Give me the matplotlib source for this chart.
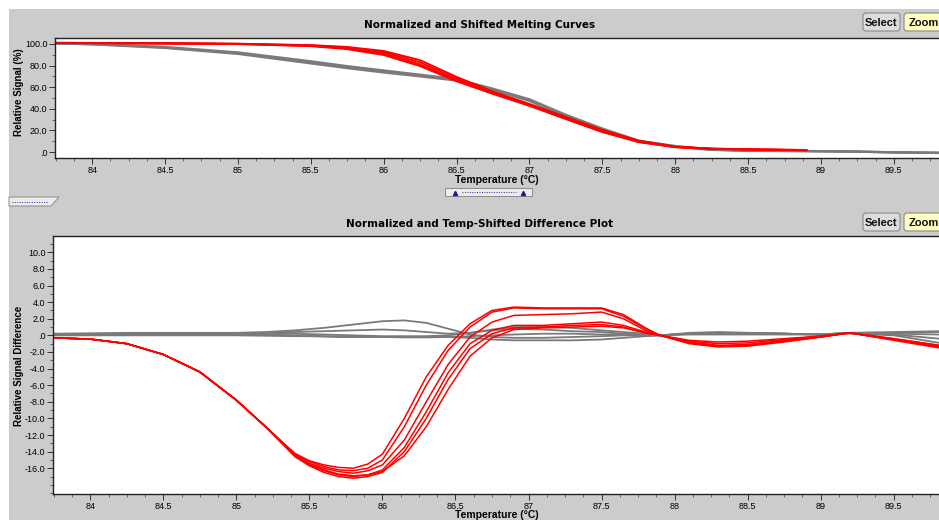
import matplotlib
matplotlib.use("Agg")
import matplotlib.pyplot as plt
from matplotlib.patches import Rectangle, FancyBboxPatch, Polygon
from matplotlib.ticker import MultipleLocator, FuncFormatter

# ---- data ----
# top plot: normalized melting curves (temperature in degC, signal in %)
temp_top = [83.75, 84.0, 84.5, 85.0, 85.5, 85.75, 86.0, 86.25, 86.5, 86.75,
            87.0, 87.25, 87.5, 87.75, 88.0, 88.25, 88.5, 88.9]
red_top = [
    [101.0, 100.9, 100.6, 100.2, 98.9, 97.2, 93.5, 85.0, 69.5, 56.0, 44.5, 32.5, 20.5, 10.5, 5.0, 3.2, 2.6, 1.9],
    [101.0, 100.9, 100.6, 100.1, 98.6, 96.6, 92.3, 83.0, 68.0, 55.0, 43.8, 31.8, 19.8, 10.0, 4.8, 3.1, 2.5, 1.8],
    [101.0, 100.8, 100.5, 100.0, 98.3, 95.9, 91.0, 81.0, 66.5, 54.3, 43.2, 31.0, 19.0, 9.5, 4.6, 3.0, 2.4, 1.7],
    [100.9, 100.8, 100.4, 99.9, 98.0, 95.2, 89.8, 79.5, 65.5, 53.8, 42.8, 30.5, 18.5, 9.2, 4.5, 2.9, 2.3, 1.7],
]
temp_top_gray = [83.75, 84.0, 84.5, 85.0, 85.5, 85.75, 86.0, 86.25, 86.5, 86.75,
                 87.0, 87.25, 87.5, 87.75, 88.0, 88.25, 88.5, 88.9, 89.25, 89.5, 89.81]
gray_top = [
    [100.6, 100.0, 97.2, 92.2, 84.0, 79.5, 75.5, 71.6, 67.5, 58.6, 48.8, 34.5, 21.8, 10.6, 5.6, 2.4, 1.4, 1.0, 0.5, -0.2, -0.6],
    [100.5, 99.8, 96.8, 91.5, 83.0, 78.5, 74.5, 70.8, 66.8, 58.0, 48.0, 33.5, 21.0, 10.0, 5.3, 2.2, 1.3, 0.9, 0.4, -0.3, -0.7],
    [100.4, 99.6, 96.3, 90.8, 82.0, 77.6, 73.6, 70.0, 66.1, 57.4, 47.3, 32.8, 20.3, 9.5, 5.0, 2.0, 1.1, 0.8, 0.3, -0.4, -0.9],
]

# bottom plot: temp-shifted difference curves
temp_diff = [83.75, 84.0, 84.25, 84.5, 84.75, 85.0, 85.2, 85.4, 85.5, 85.6, 85.7, 85.8, 85.9, 86.0,
             86.15, 86.3, 86.45, 86.6, 86.75, 86.9, 87.1, 87.3, 87.5, 87.65, 87.8,
             87.9, 88.1, 88.3, 88.5, 88.75, 89.0, 89.2, 89.5, 89.81]
red_diff = [
    [-0.3, -0.45, -1.0, -2.3, -4.4, -7.8, -11.0, -14.2, -15.1, -15.6, -15.9, -16.0, -15.5, -14.3, -10.0, -5.0, -1.2, 1.4, 3.0, 3.4, 3.3, 3.3, 3.3, 2.5, 0.9, 0.0, -0.6, -0.8, -0.7, -0.4, -0.1, 0.3, -0.4, -1.2],
    [-0.3, -0.45, -1.0, -2.3, -4.4, -7.8, -11.0, -14.3, -15.2, -15.8, -16.2, -16.3, -16.0, -15.0, -11.0, -6.0, -1.8, 1.0, 2.8, 3.3, 3.2, 3.2, 3.2, 2.3, 0.8, 0.0, -0.7, -1.0, -0.9, -0.5, -0.1, 0.3, -0.4, -1.2],
    [-0.3, -0.45, -1.0, -2.3, -4.4, -7.8, -11.0, -14.4, -15.4, -16.0, -16.4, -16.6, -16.3, -15.6, -12.6, -8.0, -3.5, -0.2, 1.6, 2.4, 2.5, 2.6, 2.8, 2.0, 0.6, 0.0, -0.8, -1.2, -1.1, -0.6, -0.1, 0.3, -0.5, -1.3],
    [-0.3, -0.45, -1.0, -2.3, -4.4, -7.8, -11.0, -14.5, -15.6, -16.3, -16.8, -17.0, -16.8, -16.2, -13.5, -9.2, -4.5, -1.0, 0.6, 1.2, 1.2, 1.4, 1.6, 1.2, 0.4, 0.0, -0.9, -1.3, -1.2, -0.7, -0.2, 0.3, -0.5, -1.4],
    [-0.3, -0.45, -1.0, -2.3, -4.4, -7.8, -11.0, -14.6, -15.7, -16.5, -17.0, -17.2, -17.0, -16.5, -14.0, -10.0, -5.3, -1.6, 0.2, 0.9, 1.0, 1.2, 1.3, 1.0, 0.3, 0.0, -1.0, -1.4, -1.3, -0.8, -0.2, 0.3, -0.6, -1.5],
    [-0.3, -0.45, -1.0, -2.3, -4.4, -7.8, -11.0, -14.4, -15.5, -16.2, -16.7, -16.9, -16.8, -16.4, -14.5, -11.0, -6.5, -2.5, -0.3, 0.7, 0.9, 1.0, 1.1, 0.9, 0.3, 0.0, -0.9, -1.3, -1.2, -0.7, -0.2, 0.3, -0.5, -1.4],
]
gray_diff = [
    [0.1, 0.15, 0.2, 0.2, 0.25, 0.3, 0.4, 0.6, 0.75, 0.9, 1.1, 1.3, 1.5, 1.7, 1.8, 1.5, 0.8, 0.1, -0.2, -0.3, -0.3, -0.2, -0.1, 0.0, 0.0, 0.0, 0.3, 0.4, 0.3, 0.2, 0.1, 0.3, 0.3, 0.4],
    [0.1, 0.15, 0.2, 0.2, 0.2, 0.25, 0.3, 0.4, 0.45, 0.5, 0.55, 0.6, 0.65, 0.7, 0.6, 0.4, 0.2, 0.3, 0.7, 1.0, 1.0, 0.9, 0.6, 0.4, 0.2, 0.0, 0.2, 0.3, 0.3, 0.2, 0.1, 0.3, 0.2, 0.1],
    [0.0, 0.0, 0.0, 0.0, 0.0, 0.0, -0.05, -0.1, -0.1, -0.15, -0.2, -0.2, -0.2, -0.2, -0.2, -0.2, -0.2, -0.3, -0.5, -0.6, -0.6, -0.6, -0.5, -0.3, -0.1, 0.0, 0.1, 0.1, 0.1, 0.1, 0.1, 0.2, 0.0, -0.9],
    [0.2, 0.25, 0.3, 0.3, 0.3, 0.3, 0.3, 0.2, 0.15, 0.1, 0.05, 0.0, -0.05, -0.1, -0.1, -0.1, 0.0, 0.3, 0.6, 0.8, 0.7, 0.5, 0.4, 0.2, 0.1, 0.0, 0.2, 0.3, 0.2, 0.2, 0.1, 0.3, 0.4, 0.5],
    [0.0, 0.1, 0.1, 0.1, 0.1, 0.1, 0.1, 0.0, -0.05, -0.1, -0.12, -0.15, -0.18, -0.2, -0.25, -0.25, -0.2, -0.1, 0.0, 0.1, 0.2, 0.2, 0.1, 0.1, 0.0, 0.0, 0.2, 0.3, 0.3, 0.2, 0.1, 0.3, 0.1, -0.4],
]

RED = "#ff0000"
GRAY = "#7a7a7a"
PANEL = "#cccccc"
W, H = 939, 520

plt.rcParams['font.family'] = ['Liberation Sans', 'DejaVu Sans']

fig = plt.figure(figsize=(W / 100, H / 100), dpi=100, facecolor="white")

# background panel and widgets, drawn in pixel coordinates
deco = fig.add_axes([0, 0, 1, 1], zorder=-5)
deco.set_xlim(0, W)
deco.set_ylim(H, 0)
deco.axis("off")
deco.add_patch(Rectangle((9, 9), W, H, facecolor=PANEL, edgecolor="none"))


def button(ax, x0, y0, w, h, label, face):
    ax.add_patch(FancyBboxPatch((x0, y0), w, h, boxstyle="round,pad=0,rounding_size=3",
                                facecolor=face, edgecolor="#8a8a8a", lw=0.8))
    ax.text(x0 + w / 2, y0 + h / 2 + 0.5, label, ha="center", va="center",
            fontsize=8, fontweight="bold", color="#111111")


for yb in (13, 213):
    button(deco, 863, yb, 37, 18, "Select", "#dcdcdc")
    button(deco, 904, yb, 40, 18, "Zoom", "#ffffc0")

# splitter handle and side tab
deco.add_patch(Rectangle((445, 188), 87, 8, facecolor="#ececec", edgecolor="#8a8a8a", lw=0.7))
deco.plot([462, 516], [192, 192], ls=(0, (1, 1.5)), color="#2a2a9a", lw=0.7)
deco.plot([455, 523], [192.5, 192.5], ls="none", marker="^", ms=3, color="#1a1aa0")
deco.add_patch(Polygon([(9, 197), (59, 197), (51, 206), (9, 206)], closed=True,
                       facecolor="#ececec", edgecolor="#8a8a8a", lw=0.7))
deco.plot([12, 48], [201.5, 201.5], ls=(0, (1, 1.5)), color="#2a2a9a", lw=0.7)

# titles and axis labels
fig.text(479.5 / W, 1 - 25 / H, "Normalized and Shifted Melting Curves", ha="center", va="center",
         fontsize=7.5, fontweight="bold", family="DejaVu Sans")
fig.text(479.5 / W, 1 - 224 / H, "Normalized and Temp-Shifted Difference Plot", ha="center", va="center",
         fontsize=7.5, fontweight="bold", family="DejaVu Sans")
fig.text(497 / W, 1 - 180 / H, "Temperature (°C)", ha="center", va="center", fontsize=7.5, fontweight="bold")
fig.text(497 / W, 1 - 515 / H, "Temperature (°C)", ha="center", va="center", fontsize=7.5, fontweight="bold")
fig.text(19 / W, 1 - 92 / H, "Relative Signal (%)", ha="center", va="center", rotation=90,
         fontsize=7, fontweight="bold")
fig.text(19 / W, 1 - 366 / H, "Relative Signal Difference", ha="center", va="center", rotation=90,
         fontsize=7, fontweight="bold")


def fmt_y(v, pos):
    s = f"{v:.1f}"
    if s in ("0.0", "-0.0"):
        return ".0"
    return s


def style(ax, ymajor, yminor):
    ax.set_facecolor("white")
    ax.set_xlim(83.745, 89.81)
    ax.xaxis.set_major_locator(MultipleLocator(0.5))
    ax.xaxis.set_minor_locator(MultipleLocator(0.125))
    ax.xaxis.set_major_formatter(FuncFormatter(lambda v, p: f"{v:g}"))
    ax.yaxis.set_major_locator(MultipleLocator(ymajor))
    ax.yaxis.set_minor_locator(MultipleLocator(yminor))
    ax.yaxis.set_major_formatter(FuncFormatter(fmt_y))
    ax.tick_params(which="major", direction="out", length=4, width=0.7, labelsize=6.5, pad=1.5, color="#333333")
    ax.tick_params(which="minor", direction="out", length=2, width=0.6, color="#555555")
    ax.spines["right"].set_visible(False)
    for s in ("top", "left", "bottom"):
        ax.spines[s].set_color("#222222")
        ax.spines[s].set_linewidth(1.0)


# top plot
ax1 = fig.add_axes([55 / W, 1 - 158 / H, 1 - 55 / W, 120 / H])
style(ax1, 20, 10)
ax1.set_ylim(-5.5, 105.5)
ax1.set_yticks([0, 20, 40, 60, 80, 100])
for vals in gray_top:
    ax1.plot(temp_top_gray, vals, color=GRAY, lw=1.6, solid_joinstyle="round")
for vals in red_top:
    ax1.plot(temp_top, vals, color=RED, lw=1.4, solid_joinstyle="round")

# bottom plot
ax2 = fig.add_axes([53 / W, 1 - 494 / H, 1 - 53 / W, 257.5 / H])
style(ax2, 2, 1)
ax2.set_ylim(-19.1, 11.9)
ax2.set_yticks(list(range(-16, 11, 2)))
for vals in gray_diff:
    ax2.plot(temp_diff, vals, color=GRAY, lw=1.3, solid_joinstyle="round")
for vals in red_diff:
    ax2.plot(temp_diff, vals, color=RED, lw=1.1, solid_joinstyle="round")

fig.savefig("out.png", dpi=100, facecolor="white")
